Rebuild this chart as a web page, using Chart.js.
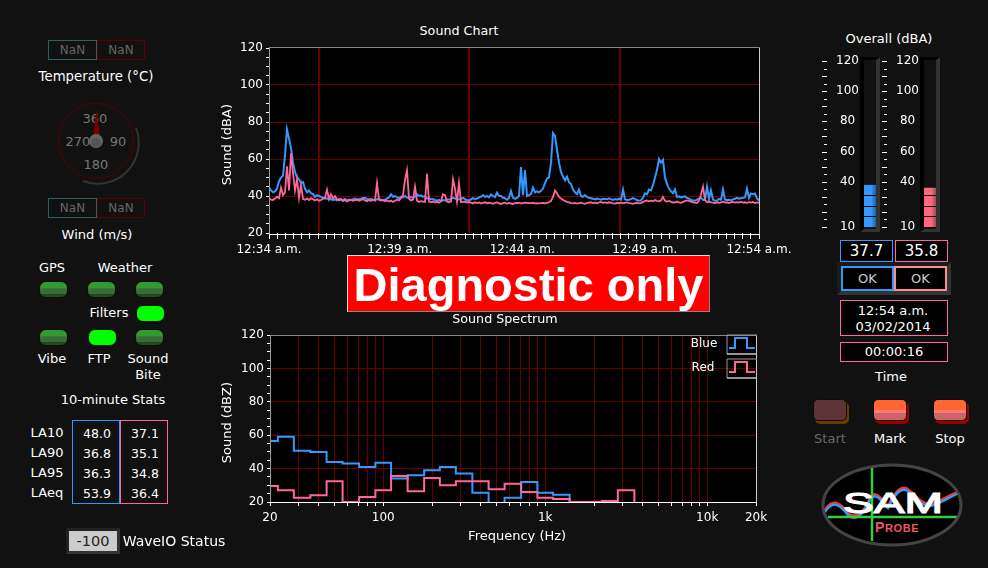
<!DOCTYPE html>
<html>
<head>
<meta charset="utf-8">
<title>SAM Probe</title>
<script src="https://cdn.jsdelivr.net/npm/chart.js@4/dist/chart.umd.min.js"></script>
<style>
  html, body { margin: 0; padding: 0; background: #111; }
  body { position: relative; width: 988px; height: 568px; overflow: hidden; color: #fff; font: 13px "DejaVu Sans", sans-serif; }
  canvas { position: absolute; }
  .t { position: absolute; transform: translate(-50%, -50%); white-space: nowrap; }
  .box { position: absolute; box-sizing: border-box; }
  .nan { color: #666; text-align: center; line-height: 18px; background: #111; font-size: 12px; }
  .num { font-size: 12.5px; }
  .led { position: absolute; width: 29px; height: 17px; border-radius: 7px; box-sizing: border-box; border: 1px solid #0c0c0c;
         background: linear-gradient(#339933 0, #339933 40%, #3a6b3a 45%, #3a6b3a 80%, #1d4d1d 80%); }
  .led.on { background: #00ff00; }
  .well { position: absolute; box-sizing: border-box; width: 20px; height: 175px; top: 57px; background: #111;
          border-left: 4px solid #000; border-top: 3px solid #000; border-right: 4px solid #333; border-bottom: 3px solid #333; }
  .val { background: #000; text-align: center; }
  .btn { position: absolute; width: 34px; height: 22px; border-radius: 5px; box-sizing: border-box; }
</style>
</head>
<body>

<div class="well" style="left:860px"></div>
<div class="well" style="left:920px"></div>

<canvas id="trendChart" style="left:220px;top:40px"></canvas>
<canvas id="spectrumChart" style="left:220px;top:325px"></canvas>
<canvas id="gaugeBlue" style="left:818px;top:52px"></canvas>
<canvas id="gaugeRed" style="left:878px;top:52px"></canvas>

<div class="t" style="left:459px;top:30px;font-size:12.7px">Sound Chart</div>
<div class="t" style="left:505px;top:318px;font-size:12.7px">Sound Spectrum</div>

<!-- spectrum legend -->
<div class="t" style="left:704px;top:343px;font-size:12px">Blue</div>
<div class="t" style="left:703px;top:367px;font-size:12px">Red</div>
<svg class="box" style="left:726px;top:334px" width="32" height="46">
  <path d="M1 20V1H31M1 20H31" fill="none" stroke="#999"/>
  <path d="M1 20H31" fill="none" stroke="#ddd"/>
  <path d="M3 14H9V4H21V14H29" fill="none" stroke="#3399ff" stroke-width="2"/>
  <path d="M1 44V25H31M1 44H31" fill="none" stroke="#999"/>
  <path d="M1 44H31" fill="none" stroke="#ddd"/>
  <path d="M3 38H9V28H21V38H29" fill="none" stroke="#ff6699" stroke-width="2"/>
</svg>

<!-- banner -->
<div class="box" style="left:347px;top:255px;width:363px;height:57px;background:#f00;border:1px solid;border-color:#ddd #888 #888 #ddd;overflow:hidden">
  <div style="font:bold 47px 'Liberation Sans',sans-serif;text-align:center;line-height:57px">Diagnostic only</div>
</div>

<!-- left panel -->
<div class="box nan" style="left:48px;top:40px;width:49px;height:20px;border:1px solid #2f6060">NaN</div>
<div class="box nan" style="left:97px;top:40px;width:48px;height:20px;border:1px solid #5a0000">NaN</div>
<div class="t" style="left:96px;top:76px;font-size:13.3px">Temperature (°C)</div>
<svg class="box" style="left:50px;top:95px" width="95" height="95">
  <path d="M86 33 A41 41 0 0 1 33 86" fill="none" stroke="#333" stroke-width="2"/>
  <circle cx="46" cy="46" r="37.5" fill="none" stroke="#550000"/>
  <text x="45" y="28" fill="#777" font-size="13" text-anchor="middle">360</text>
  <text x="28" y="51" fill="#777" font-size="13" text-anchor="middle">270</text>
  <text x="68" y="51" fill="#777" font-size="13" text-anchor="middle">90</text>
  <text x="46" y="74" fill="#777" font-size="13" text-anchor="middle">180</text>
  <path d="M46.5 14 L50 44 H43 Z" fill="#7a0000"/>
  <circle cx="46" cy="46" r="7" fill="#666"/>
  <circle cx="46" cy="48" r="5" fill="#555"/>
</svg>
<div class="box nan" style="left:48px;top:198px;width:49px;height:20px;border:1px solid #2f6060">NaN</div>
<div class="box nan" style="left:97px;top:198px;width:48px;height:20px;border:1px solid #5a0000">NaN</div>
<div class="t" style="left:97px;top:234px">Wind (m/s)</div>

<div class="t" style="left:52px;top:267px">GPS</div>
<div class="t" style="left:125px;top:267px">Weather</div>
<div class="led" style="left:39px;top:281px"></div>
<div class="led" style="left:87px;top:281px"></div>
<div class="led" style="left:135px;top:281px"></div>
<div class="t" style="left:109px;top:312px">Filters</div>
<div class="led on" style="left:136px;top:305px"></div>
<div class="led" style="left:39px;top:329px"></div>
<div class="led on" style="left:88px;top:329px"></div>
<div class="led" style="left:135px;top:329px"></div>
<div class="t" style="left:52px;top:358px">Vibe</div>
<div class="t" style="left:99px;top:358px">FTP</div>
<div class="t" style="left:148px;top:358px">Sound</div>
<div class="t" style="left:148px;top:374px">Bite</div>

<div class="t" style="left:113px;top:399px">10-minute Stats</div>
<div class="t" style="left:47px;top:432px">LA10</div>
<div class="t" style="left:47px;top:452px">LA90</div>
<div class="t" style="left:47px;top:472px">LA95</div>
<div class="t" style="left:47px;top:492px">LAeq</div>
<div class="box" style="left:72px;top:420px;width:48px;height:84px;border:1px solid #3399ff"></div>
<div class="box" style="left:120px;top:420px;width:48px;height:84px;border:1px solid #ff6699"></div>
<div class="t num" style="left:97px;top:433px">48.0</div>
<div class="t num" style="left:145px;top:433px">37.1</div>
<div class="t num" style="left:97px;top:453px">36.8</div>
<div class="t num" style="left:145px;top:453px">35.1</div>
<div class="t num" style="left:97px;top:473px">36.3</div>
<div class="t num" style="left:145px;top:473px">34.8</div>
<div class="t num" style="left:97px;top:493px">53.9</div>
<div class="t num" style="left:145px;top:493px">36.4</div>

<div class="box" style="left:66px;top:528px;width:54px;height:26px;background:#ccc;border:3px solid;border-color:#222 #333 #333 #222"></div>
<div class="t" style="left:93px;top:541px;color:#222;font-size:14.5px">-100</div>
<div class="t" style="left:174px;top:541px;font-size:14px">WaveIO Status</div>

<!-- right panel -->
<div class="t" style="left:889px;top:38px">Overall (dBA)</div>
<div class="box val" style="left:840px;top:240px;width:53px;height:22px;border:1px solid #3399ff;font-size:15px;line-height:20px">37.7</div>
<div class="box val" style="left:895px;top:240px;width:53px;height:22px;border:1px solid #ff6699;font-size:15px;line-height:20px">35.8</div>
<div class="box" style="left:837px;top:262px;width:114px;height:33px;background:#111;border-top:4px solid #1a1a1a;border-left:4px solid #1a1a1a;border-right:4px solid #333;border-bottom:4px solid #333"></div>
<div class="box val" style="left:841px;top:266px;width:53px;height:25px;border:2px solid #3399ff;color:#ccc;line-height:21px">OK</div>
<div class="box val" style="left:894px;top:266px;width:53px;height:25px;border:2px solid #ff8a94;color:#ccc;line-height:21px">OK</div>

<div class="box val" style="left:840px;top:300px;width:108px;height:36px;border:1px solid #ff6699"></div>
<div class="t" style="left:893px;top:310px">12:54 a.m.</div>
<div class="t" style="left:893px;top:326px">03/02/2014</div>
<div class="box val" style="left:840px;top:342px;width:108px;height:20px;border:1px solid #ff6699;line-height:18px">00:00:16</div>
<div class="t" style="left:891px;top:376px">Time</div>

<div class="btn" style="left:815px;top:402px;background:#6b3800"></div>
<div class="btn" style="left:813px;top:399px;background:#5e3333;border:1px solid #0c0c0c"></div>
<div class="btn" style="left:875px;top:402px;background:#990000"></div>
<div class="btn" style="left:873px;top:399px;border:1px solid #0c0c0c;background:linear-gradient(#ff6633 0,#ff6633 50%,#ff7777 50%,#ff7777 65%,#cc6666 65%)"></div>
<div class="btn" style="left:935px;top:402px;background:#990000"></div>
<div class="btn" style="left:933px;top:399px;border:1px solid #0c0c0c;background:linear-gradient(#ff6633 0,#ff6633 50%,#ff7777 50%,#ff7777 65%,#cc6666 65%)"></div>
<div class="t" style="left:830px;top:438px;color:#666">Start</div>
<div class="t" style="left:890px;top:438px">Mark</div>
<div class="t" style="left:950px;top:438px">Stop</div>

<svg class="box" style="left:820px;top:462px" width="146" height="86" viewBox="820 462 146 86">
  <defs><clipPath id="oval"><ellipse cx="892" cy="505" rx="68" ry="39"/></clipPath></defs>
  <ellipse cx="892" cy="505" rx="69" ry="40" fill="#000" stroke="#444" stroke-width="3"/>
  <g clip-path="url(#oval)" fill="none" stroke-width="2.5">
    <path d="M825 510 C832 498 840 502 848 513 C856 520 864 512 870 498 C874 490 880 496 888 506 C892 498 898 486 906 488 C914 492 920 504 930 504 C940 502 950 494 962 490" stroke="#ff3322"/>
    <path d="M825 512 C832 500 840 504 848 515 C856 522 864 514 870 500 C874 492 880 498 888 508 C892 500 898 488 906 490 C914 494 920 506 930 506 C940 504 950 496 962 492" stroke="#2f9cff"/>
    <path d="M872 468V541M828 517H957" stroke="#33cc44" stroke-width="2.5"/>
  </g>
  <text x="843" y="513" fill="#fff" stroke="#fff" stroke-width="1.2" font-family="Liberation Sans" font-size="29" textLength="100" lengthAdjust="spacingAndGlyphs">SAM</text>
  <text x="875" y="532" fill="#ee5566" font-family="Liberation Sans" font-weight="bold" font-size="11" letter-spacing="0.6"><tspan font-size="14">P</tspan>ROBE</text>
</svg>

<script>
// trend readings, one every 2 px of the time axis (about 4.9 s)
var blueLevel = [
  44.5,43,42,42.5,44,48,50,51,62,76,71,66,58,53,50,49,47,47.5,44,42,43,41.5,41,39.5,40.5,40,
  39.5,39,38.5,38.8,38,38.4,37.8,38.2,37.7,38.3,
  38,37.9,38.4,37.6,38.1,37.8,38.3,38.6,37.9,38.2,
  38.5,38.9,39,38.4,38.1,38.5,38,37.7,38.2,38.4,
  38,37.6,38,38.7,39.2,41,39.6,40,39.3,38.9,
  39.5,39.2,40,39.2,39,39.5,38.8,39.8,41,40,
  40.3,39.6,39.8,38.6,38.9,38.2,38.3,37.8,37.5,37.9,
  37.2,37.8,37.5,38.2,38,38.4,39,38.6,38.4,38.1,
  38.5,39,38.3,37.8,37.5,38.2,38.8,38.4,38.6,39.2,
  39.6,40.5,39.5,40,39.3,40.8,40,39.4,41.8,40,
  40,39,38.8,38,39,42.7,39,38.5,39,40,
  55.7,40.5,54,40,40.5,41,44.5,42,42.5,42,42.8,44,47,49.5,50,58,74,72.5,65,58,
  53,50.5,48.5,50.5,47.5,46.5,43.5,42,41,43.5,40,39.5,40.5,39.5,39,38.8,
  38.5,38.2,38.6,38.3,38,38.5,38.4,38.2,38.7,38.3,37.9,38.4,38,38.6,38,43.5,38.2,37.8,38,38.3,
  38.9,38.5,37.7,37.4,37.6,39,41.5,41,43.5,43,46,50,54,60,58,59.5,50,46.5,44,42.5,
  41.5,43.5,39.5,39.8,39.2,39.6,39.8,39,38.6,37.8,37.6,37.4,38,38.6,39,38,37.8,45,38.5,43,
  38,37.4,37.6,38.4,38,43.5,38,37.8,38,37.6,38.2,38.5,39,38.5,38.8,39,39.2,44,39,41.4,41,41.4,38.8,37.5
];
var redLevel = [
  39,38,37.8,38.6,39.6,38.8,44.5,40.5,42,56,43,63,52.5,43,49,39,46,38.4,38,38.6,37.8,38.8,38.2,37.6,38.2,37.4,
  37.8,38.6,39,43.5,38.4,41,38.6,40,38.2,
  37.6,38.4,37.2,37.8,37,37.6,38,37.4,37.8,38.2,37.5,37.9,38.3,37.6,37.2,37.8,37.4,37.9,37.5,
  47,38,37.5,37.9,37.2,37.6,37,37.5,36.8,37.4,38,37.6,39,
  40.5,48.8,53.8,38.5,37.6,38,45,37.5,36.8,37.2,37,36.8,52,37,36.6,37,36.5,36.8,36.4,37.2,41,40.5,37,36.6,37,49,44,37,47,36.6,36.8,37,36.4,36.8,
  36.4,36,36.6,36.2,36.5,35.9,36.3,36.6,36,36.4,36.2,35.8,36.3,36.5,36,35.7,36.1,36.4,35.8,36.2,
  36,35.6,36.3,36.1,36.4,36,36.2,36.4,36.3,36.2,36.1,36.2,36,36.1,36,36.1,36.2,36,36.3,
  36.6,37.4,39.5,43,41.5,39.5,38.6,38,37.2,36.8,36.6,
  36.2,36,36.3,35.9,36.1,36.4,36,35.8,36.2,36.4,36.6,36.2,36.4,36,36.5,36.8,36.3,36.5,
  36.2,36.6,36.4,36,35.9,36.3,36.1,36.4,36,36.3,36.5,36.2,36,35.8,36.1,36.3,36,36.2,
  36.8,37.2,37.6,37.1,37.5,37.2,37.8,37.4,37.1,37.6,39.5,37.4,37,37.3,36.8,36.5,36.6,37,36.6,36.3,
  36.8,37.2,37.6,37.4,37,36.6,36.4,36.2,37.5,41,45,37.8,36.8,37,36.6,36.4,36.2,36.6,36.3,36.6,
  36.9,36.4,36.6,36.2,36.5,36.8,36.4,36.7,36.5,36.8,36.4,36.6,36.3,36.7,36.4,36.8,36.2,36.5,36.3
];
var trendSpanMinutes = 20;
var trendLabels = { 0: "12:34 a.m.", 16: "12:39 a.m.", 31: "12:44 a.m.", 46: "12:49 a.m.", 60: "12:54 a.m." };
var trendGridMinutes = [2.05, 8.18, 14.31];

// third-octave spectrum (below 20 dBZ runs off the plot)
var bandHz = [20,25,31.5,40,50,63,80,100,125,160,200,250,315,400,500,630,800,1000,1250,1600,2000,2500,3150,4000,5000];
var blueSpectrum = [56.5,59,50.7,50,44,43,41,43.5,34,36,39,41,37,25.5,15,22.6,32,25.6,24.4,20,20,10,10,10,10];
var redSpectrum = [29.6,27,22.5,24,32.5,20,23,27,35.5,26.5,34.4,30,32.5,32.5,27.6,31,26,22.6,21.8,20,20,20.6,27,10,10];
var logTicks = [20,30,40,50,60,70,80,90,100,200,300,400,500,600,700,800,900,1000,2000,3000,4000,5000,6000,7000,8000,9000,10000,20000];
var logLabels = { 20: "20", 100: "100", 1000: "1k", 10000: "10k", 20000: "20k" };

// overall level gauges
var overallBlue = [37.7];
var overallRed = [35.8];
var gaugeLabels = [10, 40, 60, 80, 100, 120];
var gaugeSegments = [17, 24.2, 31.5];

var BLUE = "#3399ff", RED = "#ff6699", GRID = "#660000";

Chart.defaults.font.family = '"DejaVu Sans", sans-serif';
Chart.defaults.font.size = 12;
Chart.defaults.color = "#fff";
Chart.defaults.animation = false;
Chart.defaults.responsive = false;

function sizeCanvas(id, w, h) {
  var c = document.getElementById(id);
  c.width = w;
  c.height = h;
  return c;
}

function fixWidth(w) {
  return function (s) { s.width = w; s.paddingTop = 0; s.paddingBottom = 0; };
}
function fixHeight(h) {
  return function (s) { s.height = h; s.paddingLeft = 0; s.paddingRight = 0; };
}

// black plot background and the frame, which sits a pixel outside the value range
function plotFrame(slack) {
  return {
    id: "plotFrame",
    beforeDraw: function (chart) {
      var a = chart.chartArea, g = chart.ctx;
      g.fillStyle = "#000";
      g.fillRect(a.left, a.top - slack, a.right - a.left, a.bottom - a.top + 2 * slack);
    },
    afterDatasetsDraw: function (chart) {
      var a = chart.chartArea, g = chart.ctx;
      var top = a.top - slack + 0.5, bottom = a.bottom + slack + 0.5;
      g.save();
      g.lineWidth = 1;
      g.strokeStyle = "#888";
      g.beginPath(); g.moveTo(a.left, top); g.lineTo(a.right, top); g.stroke();
      g.strokeStyle = "#999";
      g.beginPath(); g.moveTo(a.left + 0.5, top); g.lineTo(a.left + 0.5, bottom); g.stroke();
      g.strokeStyle = "#ccc";
      g.beginPath(); g.moveTo(a.right + 0.5, top); g.lineTo(a.right + 0.5, bottom); g.stroke();
      g.strokeStyle = "#fff";
      g.beginPath(); g.moveTo(a.left, bottom); g.lineTo(a.right + 1, bottom); g.stroke();
      g.restore();
    }
  };
}

function yAxis(title, width) {
  return {
    min: 20, max: 120,
    afterFit: fixWidth(width),
    afterBuildTicks: function (s) {
      s.ticks = [];
      for (var v = 20; v <= 120; v += 5) s.ticks.push({ value: v });
    },
    title: { display: true, text: title, padding: 0, font: { size: 13 } },
    border: { display: false },
    grid: {
      color: function (c) {
        var v = c.tick.value;
        return v % 20 === 0 && v > 20 && v < 120 ? GRID : "transparent";
      },
      tickColor: "#fff", tickLength: 3
    },
    ticks: {
      padding: 3, autoSkip: false,
      callback: function (v) { return v % 20 === 0 ? v : ""; }
    }
  };
}

var times = blueLevel.map(function (_, i) { return i * trendSpanMinutes / 245; });
function points(values) {
  return values.map(function (v, i) { return { x: times[i], y: v }; });
}

sizeCanvas("trendChart", 580, 218);
new Chart("trendChart", {
  type: "line",
  data: {
    datasets: [
      { label: "Blue", data: points(blueLevel), borderColor: BLUE, borderWidth: 2, pointRadius: 0, order: 2 },
      { label: "Red", data: points(redLevel), borderColor: RED, borderWidth: 1.8, pointRadius: 0, order: 1 }
    ]
  },
  options: {
    layout: { padding: { top: 8, right: 41 } },
    plugins: { legend: { display: false }, title: { display: false } },
    scales: {
      y: yAxis("Sound (dBA)\u00a0\u00a0", 49),
      x: {
        type: "linear", min: 0, max: trendSpanMinutes,
        afterFit: fixHeight(25),
        afterBuildTicks: function (s) {
          s.ticks = [];
          for (var n = 0; n <= 60; n++) s.ticks.push({ value: n / 3 });
        },
        border: { display: false },
        grid: { color: "transparent", tickColor: "#fff", tickLength: 6 },
        ticks: {
          padding: 4, autoSkip: false, maxRotation: 0,
          callback: function (v) { return trendLabels[Math.round(v * 3)] || ""; }
        }
      },
      xGrid: {
        type: "linear", position: "top", min: 0, max: trendSpanMinutes,
        afterFit: fixHeight(0),
        afterBuildTicks: function (s) {
          s.ticks = trendGridMinutes.map(function (v) { return { value: v }; });
        },
        border: { display: false },
        grid: { color: GRID, lineWidth: 2, drawTicks: false },
        ticks: { display: false }
      }
    }
  },
  plugins: [plotFrame(1)]
});

sizeCanvas("spectrumChart", 580, 219);
new Chart("spectrumChart", {
  type: "line",
  data: {
    labels: bandHz,
    datasets: [
      { label: "Blue", data: blueSpectrum, borderColor: BLUE, borderWidth: 2, pointRadius: 0, stepped: "middle", order: 2 },
      { label: "Red", data: redSpectrum, borderColor: RED, borderWidth: 2, pointRadius: 0, stepped: "middle", order: 1 }
    ]
  },
  options: {
    layout: { padding: { top: 10, right: 44 } },
    plugins: { legend: { display: false }, title: { display: false } },
    scales: {
      y: yAxis("Sound (dBZ)\u00a0\u00a0", 50),
      x: {
        type: "logarithmic", min: 20, max: 20000,
        afterFit: fixHeight(42),
        afterBuildTicks: function (s) {
          s.ticks = logTicks.map(function (v) { return { value: v }; });
        },
        title: { display: true, text: "\u00a0\u00a0Frequency (Hz)", padding: 0, font: { size: 13 } },
        border: { display: false },
        grid: { color: GRID, tickColor: "#fff", tickLength: 4 },
        ticks: {
          padding: 5, autoSkip: false, maxRotation: 0,
          callback: function (v) { return logLabels[v] || ""; }
        }
      }
    }
  },
  plugins: [plotFrame(0)]
});

// gauge: dashes stand apart from the labels, and the bar has dark bands across it
var gaugeMarks = {
  id: "gaugeMarks",
  afterDatasetsDraw: function (chart) {
    var a = chart.chartArea, g = chart.ctx, y = chart.scales.y;
    g.save();
    g.lineWidth = 1;
    g.strokeStyle = "#000";
    gaugeSegments.forEach(function (v) {
      var p = Math.round(y.getPixelForValue(v)) + 0.5;
      g.beginPath(); g.moveTo(a.left, p); g.lineTo(a.right, p); g.stroke();
    });
    g.strokeStyle = "#fff";
    y.ticks.forEach(function (t) {
      var p = Math.round(y.getPixelForValue(t.value)) + 0.5;
      var len = (t.value - 10) % 20 === 0 || t.value % 20 === 0 ? 5 : 3;
      g.beginPath(); g.moveTo(a.left - 37 - len, p); g.lineTo(a.left - 37, p); g.stroke();
    });
    g.restore();
  }
};

function gaugeFill(light, dark) {
  return function (c) {
    var a = c.chart.chartArea;
    if (!a) return light;
    var grad = c.chart.ctx.createLinearGradient(a.left, 0, a.right, 0);
    grad.addColorStop(0, light);
    grad.addColorStop(0.6, light);
    grad.addColorStop(1, dark);
    return grad;
  };
}

function makeGauge(id, values, light, dark) {
  sizeCanvas(id, 58, 180);
  new Chart(id, {
    type: "bar",
    data: {
      labels: ["Overall"],
      datasets: [{ data: values, backgroundColor: gaugeFill(light, dark), barPercentage: 1, categoryPercentage: 1 }]
    },
    options: {
      layout: { padding: { top: 9, bottom: 5 } },
      plugins: { legend: { display: false }, tooltip: { enabled: false } },
      scales: {
        x: { display: false },
        y: {
          min: 10, max: 120,
          afterFit: fixWidth(46),
          afterBuildTicks: function (s) {
            s.ticks = [];
            for (var v = 10; v <= 120; v += 5) s.ticks.push({ value: v });
          },
          border: { display: false },
          grid: { display: false, drawTicks: false },
          ticks: {
            padding: 5, autoSkip: false, crossAlign: "center",
            callback: function (v) { return gaugeLabels.indexOf(v) >= 0 ? v : ""; }
          }
        }
      }
    },
    plugins: [gaugeMarks]
  });
}
makeGauge("gaugeBlue", overallBlue, "#3399ff", "#1f5f9f");
makeGauge("gaugeRed", overallRed, "#ff6680", "#a04a55");
</script>
</body>
</html>
